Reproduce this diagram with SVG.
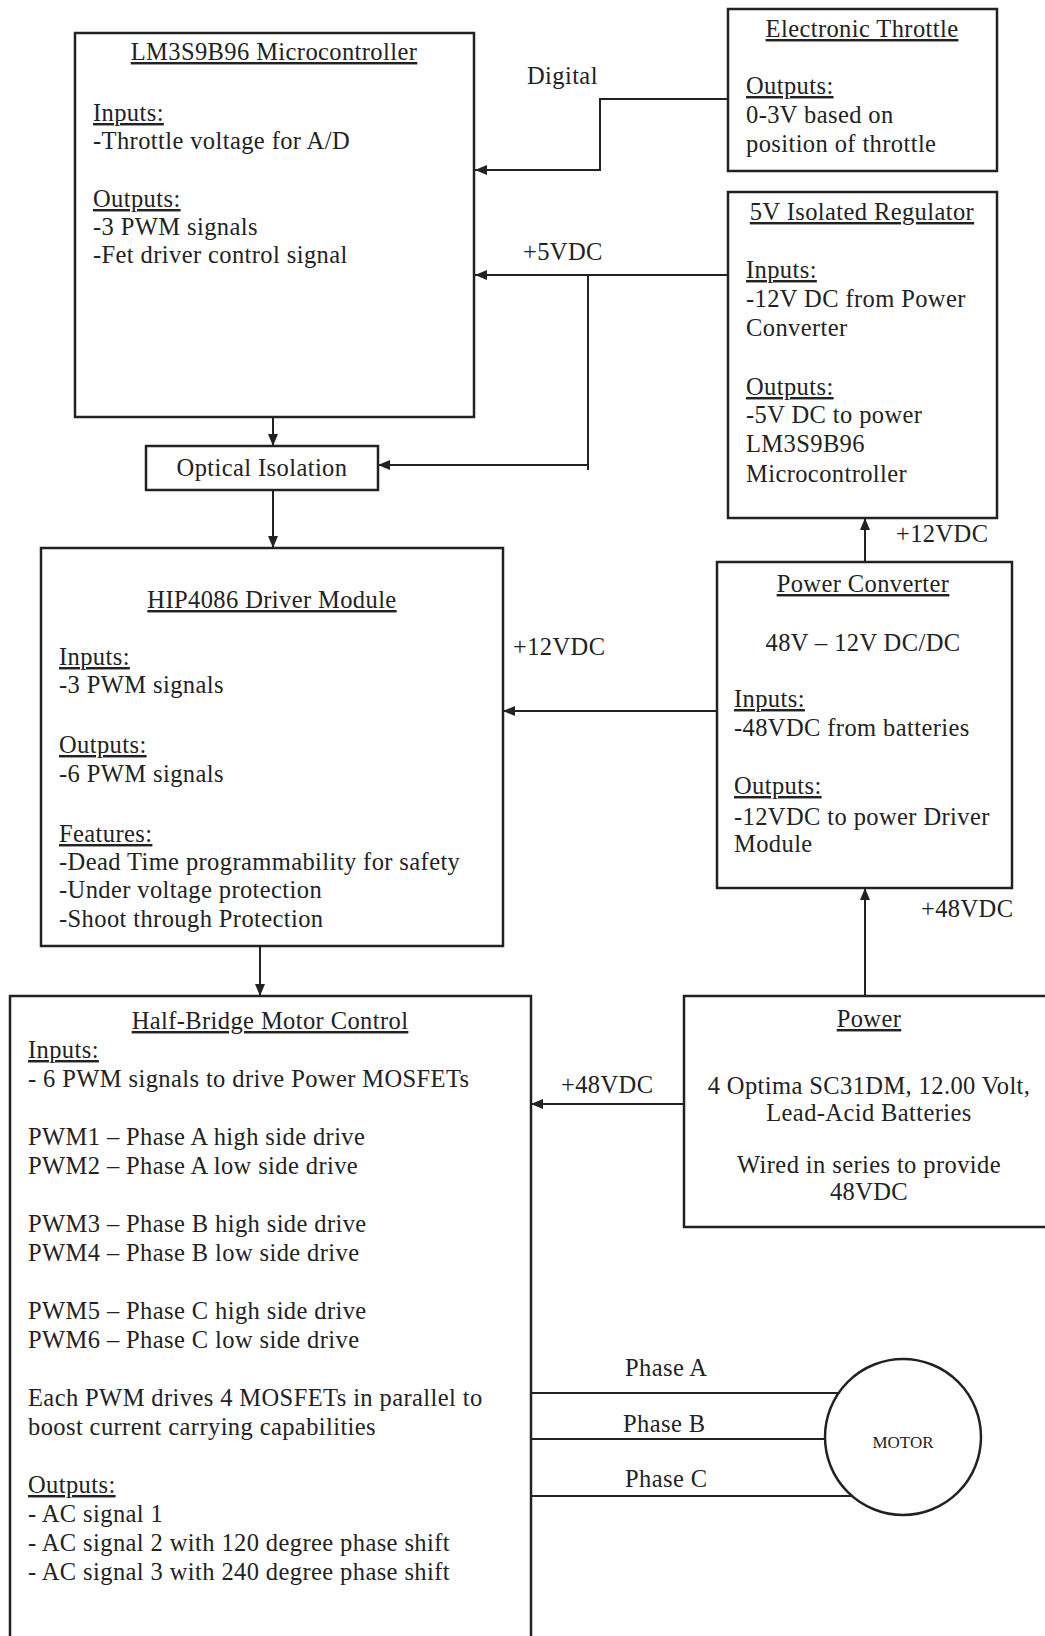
<svg xmlns="http://www.w3.org/2000/svg" width="1045" height="1636" viewBox="0 0 1045 1636">
<defs>
<marker id="arr" markerUnits="userSpaceOnUse" markerWidth="12" markerHeight="10" refX="12" refY="5" orient="auto">
<path d="M0,0 L12,5 L0,10 z" fill="#222"/>
</marker>
<style>
.box{fill:#fff;stroke:#222;stroke-width:2.5}
.ln{fill:none;stroke:#222;stroke-width:2}
text{font-family:"Liberation Serif","Times New Roman",serif;font-size:24.5px;fill:#222;letter-spacing:0.4px}
.u{text-decoration:underline}
.c{text-anchor:middle}
.sm{font-size:17px;letter-spacing:0}
</style>
</defs>
<rect width="1045" height="1636" fill="#fff"/>

<g id="connectors">
<polyline class="ln" points="728,99 600,99 600,170 475,170" marker-end="url(#arr)"/>
<line class="ln" x1="728" y1="275" x2="475" y2="275" marker-end="url(#arr)"/>
<polyline class="ln" points="588,275 588,470"/>
<line class="ln" x1="589" y1="465" x2="378" y2="465" marker-end="url(#arr)"/>
<line class="ln" x1="273" y1="417" x2="273" y2="446" marker-end="url(#arr)"/>
<line class="ln" x1="273" y1="490" x2="273" y2="548" marker-end="url(#arr)"/>
<line class="ln" x1="865" y1="562" x2="865" y2="518" marker-end="url(#arr)"/>
<line class="ln" x1="717" y1="711" x2="503" y2="711" marker-end="url(#arr)"/>
<line class="ln" x1="865" y1="996" x2="865" y2="888" marker-end="url(#arr)"/>
<line class="ln" x1="684" y1="1104" x2="531" y2="1104" marker-end="url(#arr)"/>
<line class="ln" x1="260" y1="946" x2="260" y2="996" marker-end="url(#arr)"/>
<line class="ln" x1="531" y1="1393" x2="838" y2="1393"/>
<line class="ln" x1="531" y1="1439" x2="825" y2="1439"/>
<line class="ln" x1="531" y1="1496" x2="852" y2="1496"/>
<text x="527" y="84">Digital</text>
<text x="523" y="260">+5VDC</text>
<text x="896" y="542">+12VDC</text>
<text x="513" y="655">+12VDC</text>
<text x="921" y="917">+48VDC</text>
<text x="561" y="1093">+48VDC</text>
<text x="625" y="1376">Phase A</text>
<text x="623" y="1432">Phase B</text>
<text x="625" y="1487">Phase C</text>
</g>

<g id="microcontroller">
<rect class="box" x="75" y="33" width="399" height="384"/>
<text class="u c" x="274" y="60">LM3S9B96 Microcontroller</text>
<text class="u" x="93" y="121">Inputs:</text>
<text x="93" y="149">-Throttle voltage for A/D</text>
<text class="u" x="93" y="207">Outputs:</text>
<text x="93" y="235">-3 PWM  signals</text>
<text x="93" y="263">-Fet driver control signal</text>
</g>

<g id="throttle">
<rect class="box" x="728" y="9" width="269" height="162"/>
<text class="u c" x="862" y="37">Electronic Throttle</text>
<text class="u" x="746" y="94">Outputs:</text>
<text x="746" y="123">0-3V based on</text>
<text x="746" y="152">position of throttle</text>
</g>

<g id="regulator">
<rect class="box" x="728" y="192" width="269" height="326"/>
<text class="u c" x="862" y="220">5V Isolated Regulator</text>
<text class="u" x="746" y="278">Inputs:</text>
<text x="746" y="307">-12V DC from Power</text>
<text x="746" y="336">Converter</text>
<text class="u" x="746" y="395">Outputs:</text>
<text x="746" y="423">-5V DC to power</text>
<text x="746" y="452">LM3S9B96</text>
<text x="746" y="482">Microcontroller</text>
</g>

<g id="optical">
<rect class="box" x="146" y="446" width="232" height="44"/>
<text class="c" x="262" y="476">Optical Isolation</text>
</g>

<g id="driver">
<rect class="box" x="41" y="548" width="462" height="398"/>
<text class="u c" x="272" y="608">HIP4086 Driver Module</text>
<text class="u" x="59" y="665">Inputs:</text>
<text x="59" y="693">-3 PWM  signals</text>
<text class="u" x="59" y="753">Outputs:</text>
<text x="59" y="782">-6 PWM  signals</text>
<text class="u" x="59" y="842">Features:</text>
<text x="59" y="870">-Dead Time programmability for safety</text>
<text x="59" y="898">-Under voltage protection</text>
<text x="59" y="927">-Shoot through Protection</text>
</g>

<g id="converter">
<rect class="box" x="717" y="562" width="295" height="326"/>
<text class="u c" x="863" y="592">Power Converter</text>
<text class="c" x="863" y="651">48V – 12V DC/DC</text>
<text class="u" x="734" y="707">Inputs:</text>
<text x="734" y="736">-48VDC from batteries</text>
<text class="u" x="734" y="794">Outputs:</text>
<text x="734" y="825">-12VDC to power Driver</text>
<text x="734" y="852">Module</text>
</g>

<g id="power">
<rect class="box" x="684" y="996" width="380" height="231"/>
<text class="u c" x="869" y="1027">Power</text>
<text class="c" x="869" y="1094">4 Optima SC31DM, 12.00 Volt,</text>
<text class="c" x="869" y="1121">Lead-Acid Batteries</text>
<text class="c" x="869" y="1173">Wired in series to provide</text>
<text class="c" x="869" y="1200">48VDC</text>
</g>

<g id="halfbridge">
<rect class="box" x="10" y="996" width="521" height="660"/>
<text class="u c" x="270" y="1029">Half-Bridge Motor Control</text>
<text class="u" x="28" y="1058">Inputs:</text>
<text x="28" y="1087">- 6 PWM signals to drive Power MOSFETs</text>
<text x="28" y="1145">PWM1 – Phase A high side drive</text>
<text x="28" y="1174">PWM2 – Phase A low  side drive</text>
<text x="28" y="1232">PWM3 – Phase B high side drive</text>
<text x="28" y="1261">PWM4 – Phase B low  side drive</text>
<text x="28" y="1319">PWM5 – Phase C high side drive</text>
<text x="28" y="1348">PWM6 – Phase C low  side drive</text>
<text x="28" y="1406">Each PWM drives 4 MOSFETs in parallel to</text>
<text x="28" y="1435">boost current carrying capabilities</text>
<text class="u" x="28" y="1493">Outputs:</text>
<text x="28" y="1522">- AC signal 1</text>
<text x="28" y="1551">- AC signal 2 with 120 degree phase shift</text>
<text x="28" y="1580">- AC signal 3 with 240 degree phase shift</text>
</g>

<g id="motor">
<circle class="box" cx="903" cy="1437" r="78"/>
<text class="c sm" x="903" y="1448">MOTOR</text>
</g>
</svg>
